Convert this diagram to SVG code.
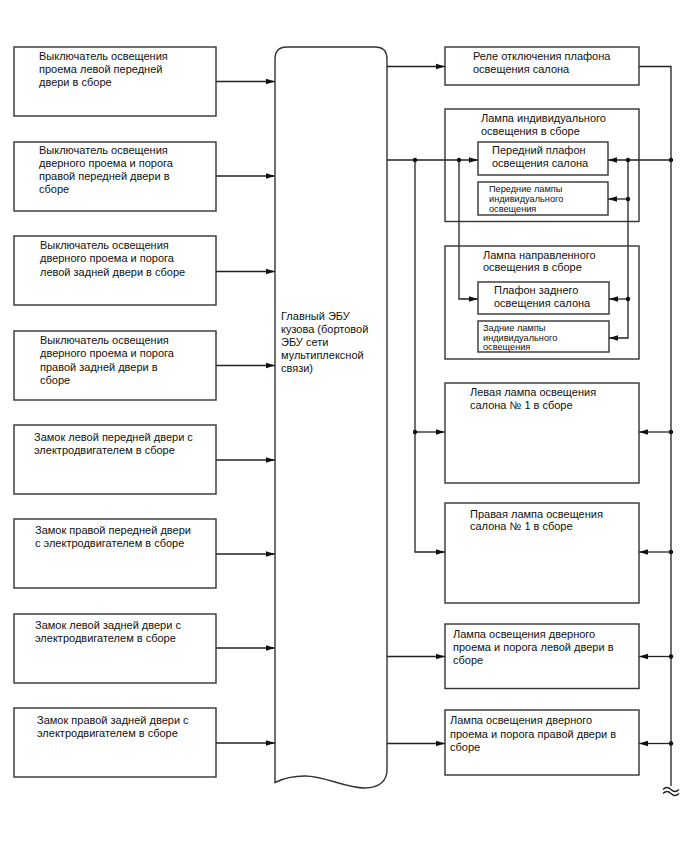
<svg xmlns="http://www.w3.org/2000/svg" width="688" height="852" viewBox="0 0 688 852">
<defs>
<style>
.bx{fill:#fff;stroke:#333;stroke-width:1.4}
.ln{fill:none;stroke:#222;stroke-width:1.3}
.ar{fill:none;stroke:#222;stroke-width:1.3;marker-end:url(#ah)}
.t{font-family:"Liberation Sans",Arial,sans-serif;font-size:11px;fill:#111}
.s{font-family:"Liberation Sans",Arial,sans-serif;font-size:9.2px;fill:#111}
.d{fill:#111}
</style>
<marker id="ah" markerWidth="10" markerHeight="8" refX="9" refY="4" orient="auto" markerUnits="userSpaceOnUse">
<path d="M0,1.3 L9,4 L0,6.7 z" fill="#111"/>
</marker>
</defs>
<rect width="688" height="852" fill="#fff"/>

<g id="connectors">
<path class="ar" d="M216,81.5 H275"/>
<path class="ar" d="M216,176 H275"/>
<path class="ar" d="M216,271.5 H275"/>
<path class="ar" d="M216,365.5 H275"/>
<path class="ar" d="M216,460 H275"/>
<path class="ar" d="M216,554 H275"/>
<path class="ar" d="M216,648 H275"/>
<path class="ar" d="M216,743 H275"/>
<path class="ar" d="M387,66.5 H445"/>
<path class="ln" d="M639,66.5 H671 V786"/>
<path class="ar" d="M387,160 H478"/>
<path class="ar" d="M415,160 V552 H445"/>
<path class="ar" d="M415,432 H445"/>
<path class="ar" d="M459,160 V299 H478"/>
<path class="ar" d="M671,160 H608"/>
<path class="ar" d="M628,160 V338 H609"/>
<path class="ar" d="M628,199 H608"/>
<path class="ar" d="M628,299 H609"/>
<path class="ar" d="M671,432 H639"/>
<path class="ar" d="M671,552 H639"/>
<path class="ar" d="M671,656.5 H639"/>
<path class="ar" d="M671,743.5 H639"/>
<path class="ar" d="M387,656.5 H445"/>
<path class="ar" d="M387,743.5 H445"/>
<path class="ln" d="M663,789.5 q4,-4 8,0 t8,0 M663,793.5 q4,-4 8,0 t8,0"/>
<circle class="d" cx="415" cy="160" r="2.2"/>
<circle class="d" cx="459" cy="160" r="2.2"/>
<circle class="d" cx="671" cy="160" r="2.2"/>
<circle class="d" cx="628" cy="160" r="2.2"/>
<circle class="d" cx="628" cy="199" r="2.2"/>
<circle class="d" cx="628" cy="299" r="2.2"/>
<circle class="d" cx="415" cy="432" r="2.2"/>
<circle class="d" cx="671" cy="432" r="2.2"/>
<circle class="d" cx="671" cy="552" r="2.2"/>
<circle class="d" cx="671" cy="656.5" r="2.2"/>
<circle class="d" cx="671" cy="743.5" r="2.2"/>
</g>

<g id="sw-lf">
<rect class="bx" x="14" y="47" width="202" height="69"/>
<text class="t" x="39" y="60">Выключатель освещения</text>
<text class="t" x="39" y="73">проема левой передней</text>
<text class="t" x="39" y="86">двери в сборе</text>
</g>
<g id="sw-rf">
<rect class="bx" x="14" y="142" width="202" height="69"/>
<text class="t" x="39" y="153.5">Выключатель освещения</text>
<text class="t" x="39" y="166.5">дверного проема и порога</text>
<text class="t" x="39" y="180">правой передней двери в</text>
<text class="t" x="39" y="193">сборе</text>
</g>
<g id="sw-lr">
<rect class="bx" x="14" y="236" width="202" height="69"/>
<text class="t" x="40" y="249">Выключатель освещения</text>
<text class="t" x="40" y="262">дверного проема и порога</text>
<text class="t" x="40" y="275.5">левой задней двери в сборе</text>
</g>
<g id="sw-rr">
<rect class="bx" x="14" y="331" width="202" height="69"/>
<text class="t" x="40" y="344">Выключатель освещения</text>
<text class="t" x="40" y="357">дверного проема и порога</text>
<text class="t" x="40" y="370.5">правой задней двери в</text>
<text class="t" x="40" y="383.5">сборе</text>
</g>
<g id="lock-lf">
<rect class="bx" x="14" y="425" width="202" height="69"/>
<text class="t" x="34" y="441">Замок левой передней двери с</text>
<text class="t" x="34" y="454">электродвигателем в сборе</text>
</g>
<g id="lock-rf">
<rect class="bx" x="14" y="519" width="202" height="69"/>
<text class="t" x="35" y="534">Замок правой передней двери</text>
<text class="t" x="35" y="547">с электродвигателем в сборе</text>
</g>
<g id="lock-lr">
<rect class="bx" x="14" y="614" width="202" height="69"/>
<text class="t" x="35" y="629">Замок левой задней двери с</text>
<text class="t" x="35" y="642">электродвигателем в сборе</text>
</g>
<g id="lock-rr">
<rect class="bx" x="14" y="708" width="202" height="69"/>
<text class="t" x="37" y="724">Замок правой задней двери с</text>
<text class="t" x="37" y="737">электродвигателем в сборе</text>
</g>

<g id="ecu">
<path class="bx" d="M275,782.5 V59 Q275,47 287,47 H375 Q387,47 387,59 V770 C387,780 380,788 365,788 C345,788 325,776 305,776 C290,776 282,779 275,782.5 Z"/>
<text class="t" x="281" y="320">Главный ЭБУ</text>
<text class="t" x="281" y="333">кузова (бортовой</text>
<text class="t" x="281" y="346">ЭБУ сети</text>
<text class="t" x="281" y="359">мультиплексной</text>
<text class="t" x="281" y="372">связи)</text>
</g>

<g id="relay">
<rect class="bx" x="445" y="47" width="194" height="38"/>
<text class="t" x="473" y="60">Реле отключения плафона</text>
<text class="t" x="473" y="72.5">освещения салона</text>
</g>

<g id="indiv-lamp">
<rect class="bx" x="445" y="109" width="194" height="112.5" style="fill:none"/>
<text class="t" x="481" y="122">Лампа индивидуального</text>
<text class="t" x="481" y="134.5">освещения в сборе</text>
</g>
<g id="front-dome">
<rect class="bx" x="478" y="142" width="130" height="33"/>
<text class="t" x="492" y="154">Передний плафон</text>
<text class="t" x="492" y="166.5">освещения салона</text>
</g>
<g id="front-personal">
<rect class="bx" x="478" y="182" width="130" height="33"/>
<text class="s" x="489" y="192">Передние лампы</text>
<text class="s" x="489" y="202">индивидуального</text>
<text class="s" x="489" y="212">освещения</text>
</g>

<g id="dir-lamp">
<rect class="bx" x="445" y="246" width="194" height="113" style="fill:none"/>
<text class="t" x="483" y="259">Лампа направленного</text>
<text class="t" x="483" y="271">освещения в сборе</text>
</g>
<g id="rear-dome">
<rect class="bx" x="478" y="282" width="131" height="32"/>
<text class="t" x="494" y="294">Плафон заднего</text>
<text class="t" x="494" y="306.5">освещения салона</text>
</g>
<g id="rear-personal">
<rect class="bx" x="478" y="321" width="131" height="31"/>
<text class="s" x="483" y="330.5">Задние лампы</text>
<text class="s" x="483" y="340.5">индивидуального</text>
<text class="s" x="483" y="350">освещения</text>
</g>

<g id="room-l">
<rect class="bx" x="445" y="383" width="194" height="100"/>
<text class="t" x="470" y="396">Левая лампа освещения</text>
<text class="t" x="470" y="408.5">салона № 1 в сборе</text>
</g>
<g id="room-r">
<rect class="bx" x="445" y="503" width="194" height="100"/>
<text class="t" x="470" y="518">Правая лампа освещения</text>
<text class="t" x="470" y="530">салона № 1 в сборе</text>
</g>
<g id="courtesy-l">
<rect class="bx" x="445" y="624" width="194" height="64.5"/>
<text class="t" x="453" y="638">Лампа освещения дверного</text>
<text class="t" x="453" y="651">проема и порога левой двери в</text>
<text class="t" x="453" y="664">сборе</text>
</g>
<g id="courtesy-r">
<rect class="bx" x="445" y="710" width="194" height="65"/>
<text class="t" x="450" y="724">Лампа освещения дверного</text>
<text class="t" x="450" y="737.5">проема и порога правой двери в</text>
<text class="t" x="450" y="751">сборе</text>
</g>
</svg>
